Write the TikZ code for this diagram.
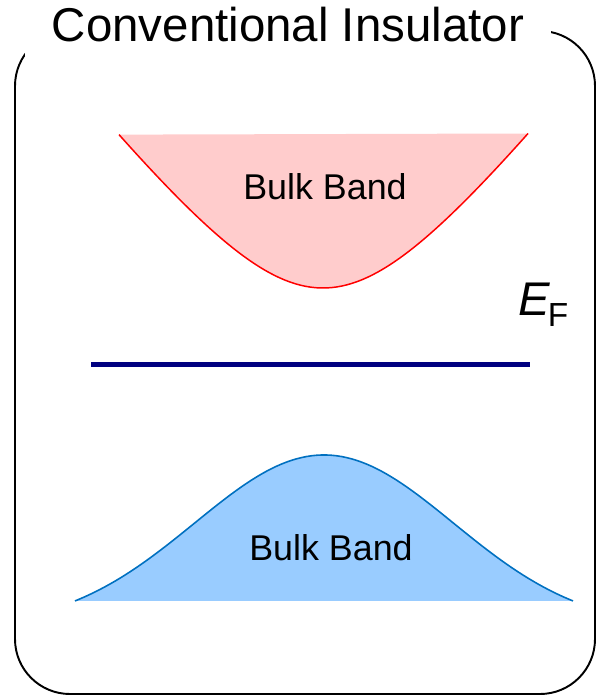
\documentclass[tikz,border=0pt]{standalone}
\usepackage{fontspec}
\setmainfont{Liberation Sans}
\definecolor{condfill}{RGB}{255,204,204}
\definecolor{valfill}{RGB}{153,204,255}
\definecolor{valline}{RGB}{0,112,192}
\definecolor{fermiblue}{RGB}{0,0,128}

\begin{document}
\begin{tikzpicture}[x=0.02cm, y=-0.02cm,
    bandlabel/.style={font=\fontsize{20.4}{24}\selectfont, anchor=base, inner sep=0pt}]
    \useasboundingbox (0,0) rectangle (597,696);
    % frame and title
    \draw[line width=1.1pt, rounded corners=1.1cm] (15,31) rectangle (595,694);
    \node[fill=white, anchor=base, inner xsep=0.54cm, inner ysep=0.28cm,
        font=\fontsize{27.0}{32}\selectfont] (title) at (288,42) {Conventional Insulator};
    % conduction band
    \fill[condfill] plot[domain=-204:205, samples=80]
        ({323+\x}, {288-148*(sqrt(1+(\x/115)^2)-1)}) -- cycle;
    \draw[red, line width=0.85pt] plot[domain=-204:205, samples=80]
        ({323+\x}, {288-148*(sqrt(1+(\x/115)^2)-1)});
    \node[bandlabel] (upper) at (325,199) {Bulk Band};
    % Fermi level
    \draw[fermiblue, line width=3.1pt] (91,364.5) -- (530,364.5);
    \node[anchor=base west, inner sep=0pt] (fermi) at (518,315)
        {\fontsize{26.9}{32}\selectfont\itshape E\upshape\kern-1.2pt\fontsize{19}{22}\selectfont\raisebox{-6.8pt}{F}};
    % valence band
    \fill[valfill] plot[domain=-249:249, samples=100]
        ({324+\x}, {601-146*(exp(-(\x/249)^2/0.5408)-0.157)/0.843}) -- cycle;
    \draw[valline, line width=0.9pt] plot[domain=-249:249, samples=100]
        ({324+\x}, {601-146*(exp(-(\x/249)^2/0.5408)-0.157)/0.843});
    \node[bandlabel] (lower) at (331,560) {Bulk Band};
\end{tikzpicture}
\end{document}
